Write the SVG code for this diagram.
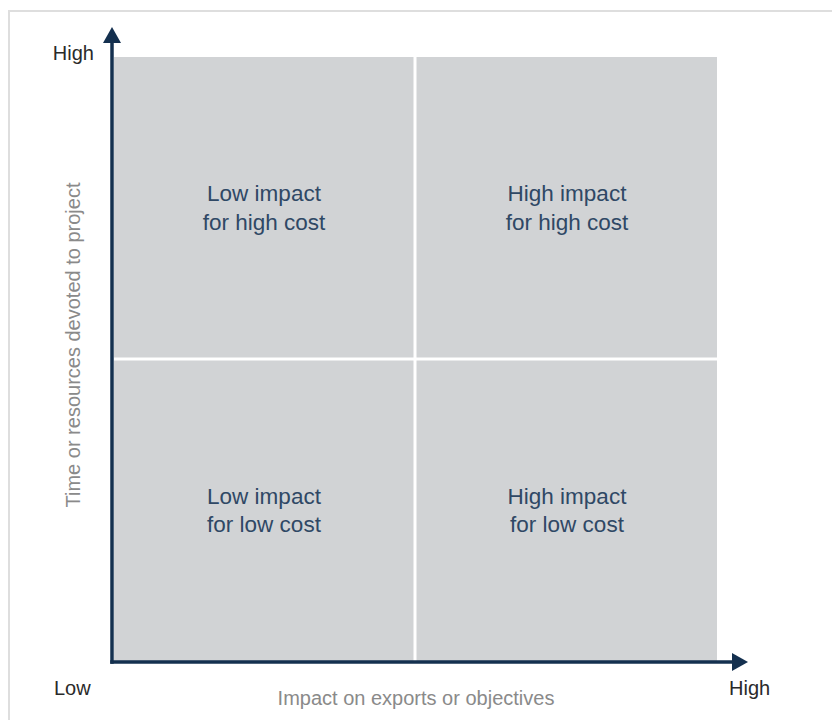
<svg xmlns="http://www.w3.org/2000/svg" width="832" height="720" viewBox="0 0 832 720">
  <style>
    .quad { fill: #d1d3d5; }
    .qtext { font-family: "Liberation Sans", Arial, sans-serif; font-size: 22.5px; fill: #2f4865; text-anchor: middle; }
    .axlabel { font-family: "Liberation Sans", Arial, sans-serif; font-size: 20px; fill: #2a2a2a; }
    .axtitle { font-family: "Liberation Sans", Arial, sans-serif; font-size: 20px; fill: #8a8a8a; text-anchor: middle; }
    .axis { stroke: #14304f; stroke-width: 3.5; fill: none; }
    .head { fill: #14304f; }
  </style>
  <rect x="0" y="0" width="832" height="720" fill="#ffffff"/>
  <rect x="9" y="11" width="840" height="720" fill="#ffffff" stroke="#dedede" stroke-width="2"/>

  <g id="q-low-high">
    <rect class="quad" x="114" y="57" width="299.5" height="300.5"/>
    <text class="qtext" x="264" y="201">Low impact</text>
    <text class="qtext" x="264" y="230">for high cost</text>
  </g>
  <g id="q-high-high">
    <rect class="quad" x="416.5" y="57" width="300.5" height="300.5"/>
    <text class="qtext" x="567" y="201">High impact</text>
    <text class="qtext" x="567" y="230">for high cost</text>
  </g>
  <g id="q-low-low">
    <rect class="quad" x="114" y="360.5" width="299.5" height="301.5"/>
    <text class="qtext" x="264" y="504">Low impact</text>
    <text class="qtext" x="264" y="532">for low cost</text>
  </g>
  <g id="q-high-low">
    <rect class="quad" x="416.5" y="360.5" width="300.5" height="301.5"/>
    <text class="qtext" x="567" y="504">High impact</text>
    <text class="qtext" x="567" y="532">for low cost</text>
  </g>

  <g id="axes">
    <line class="axis" x1="112" y1="663.75" x2="112" y2="40"/>
    <polygon class="head" points="112,27 121,43 103,43"/>
    <line class="axis" x1="110.25" y1="662" x2="734" y2="662"/>
    <polygon class="head" points="748,662 732,653 732,671"/>
  </g>

  <g id="labels">
    <text class="axlabel" x="94" y="60" text-anchor="end">High</text>
    <text class="axlabel" x="54" y="695">Low</text>
    <text class="axlabel" x="729" y="695">High</text>
    <text class="axtitle" x="416" y="705">Impact on exports or objectives</text>
    <text class="axtitle" transform="translate(80,345) rotate(-90)" x="0" y="0">Time or resources devoted to project</text>
  </g>
</svg>
